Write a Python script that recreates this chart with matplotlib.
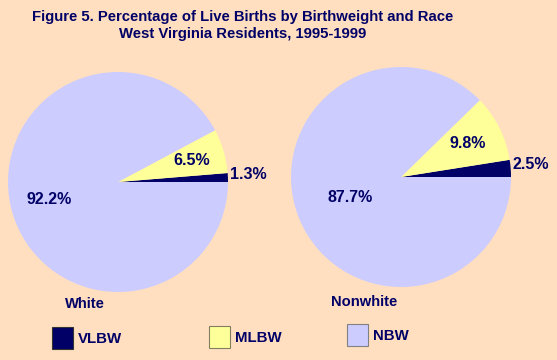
import numpy as np
import matplotlib.pyplot as plt
from matplotlib.patches import Rectangle

# data
categories = ["VLBW", "MLBW", "NBW"]
races = ["White", "Nonwhite"]
white_pct = [1.3, 6.5, 92.2]
nonwhite_pct = [2.5, 9.8, 87.7]

colors = ["#000066", "#FFFF99", "#CCCCFF"]
navy = "#000066"
bg = "#FFDFC0"
W, H = 557, 360

plt.rcParams['font.family'] = ['Liberation Sans', 'DejaVu Sans']
plt.rcParams['font.weight'] = 'bold'

fig = plt.figure(figsize=(W / 100, H / 100), dpi=100, facecolor=bg)

def px_axes(cx, cy, r):
    # axes box in pixel coords (top-left origin) -> figure fraction
    return fig.add_axes([(cx - r) / W, (H - cy - r) / H, 2 * r / W, 2 * r / H])

# label placement per slice: (distance, horizontal alignment)
label_pos = {
    "White": [(1.02, 'left'), (0.70, 'center'), (0.645, 'center')],
    "Nonwhite": [(1.02, 'left'), (0.68, 'center'), (0.50, 'center')],
}
pie_centers = {"White": (118, 182), "Nonwhite": (401, 177)}
radius_px = 110

for race, vals in zip(races, [white_pct, nonwhite_pct]):
    cx, cy = pie_centers[race]
    ax = px_axes(cx, cy, radius_px)
    wedges, _ = ax.pie(vals, colors=colors, startangle=0, counterclock=True,
                       radius=1, wedgeprops=dict(linewidth=0))
    ax.set_xlim(-1, 1)
    ax.set_ylim(-1, 1)
    ax.set_aspect('equal')
    ax.axis('off')
    for w, v, (d, ha) in zip(wedges, vals, label_pos[race]):
        ang = np.deg2rad((w.theta1 + w.theta2) / 2)
        ax.text(d * np.cos(ang), d * np.sin(ang) + (0.03 if ha == 'left' else 0),
                f"{v}%", ha=ha, va='center', color=navy, fontsize=11.5,
                fontweight='bold', clip_on=False)

# overlay axes in pixel coordinates for titles / legend
ov = fig.add_axes([0, 0, 1, 1], zorder=-1)
ov.set_xlim(0, W)
ov.set_ylim(H, 0)
ov.axis('off')

ov.text(243, 17, "Figure 5. Percentage of Live Births by Birthweight and Race",
        ha='center', va='center', color=navy, fontsize=10.7, fontweight='bold')
ov.text(243, 34, "West Virginia Residents, 1995-1999",
        ha='center', va='center', color=navy, fontsize=10.7, fontweight='bold')

ov.text(85, 304, races[0], ha='center', va='center', color=navy, fontsize=10.6)
ov.text(364, 302, races[1], ha='center', va='center', color=navy, fontsize=10.6)

leg_x = [52, 209, 347]
leg_y = [327, 326, 324]
edge = ["#333333", "#808060", "#808080"]
for name, c, x, y, ec in zip(categories, colors, leg_x, leg_y, edge):
    ov.add_patch(Rectangle((x, y), 21, 22, facecolor=c, edgecolor=ec, linewidth=0.8))
    ov.text(x + 26, y + 12, name, ha='left', va='center', color=navy, fontsize=10.8)

fig.savefig("out.png", dpi=100, facecolor=bg)
